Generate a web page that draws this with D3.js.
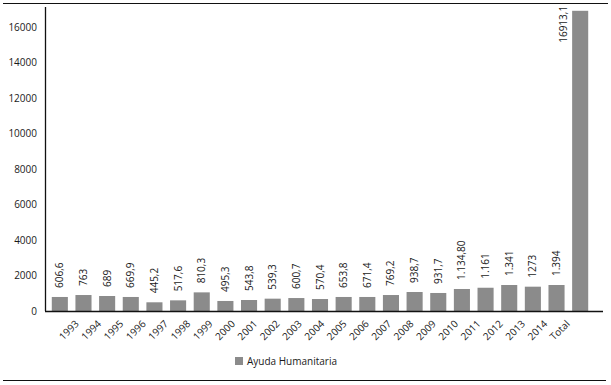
<!DOCTYPE html>
<html>
<head>
<meta charset="utf-8">
<script src="https://cdn.jsdelivr.net/npm/d3@7"></script>
<style>
    body { margin: 0; background: #fff; }
    text { font-family: "Open Sans", sans-serif; fill: #1a1a1a; }
</style>
</head>
<body>
<div id="chart"></div>
<script>

// Categories (years plus the total)
const categories = ["1993","1994","1995","1996","1997","1998","1999","2000","2001","2002","2003",
                    "2004","2005","2006","2007","2008","2009","2010","2011","2012","2013","2014","Total"]

// Bar heights as drawn in the picture
const values = [790,900,845,790,490,600,1050,565,620,695,730,675,790,790,900,1070,1015,1240,1310,1465,1370,1465,16913.1]

// Data labels as printed above each bar
const valueLabels = ["606,6","763","689","669,9","445,2","517,6","810,3","495,3","543,8","539,3","600,7",
                     "570,4","653,8","671,4","769,2","938,7","931,7","1.134,80","1.161","1.341","1273","1.394","16913,1"]

// Y axis ticks
const yTicks = [0,2000,4000,6000,8000,10000,12000,14000,16000]

const seriesName = "Ayuda Humanitaria"

function drawChart(container) {

    // Define chart parameters
    const WIDTH = 611
    const HEIGHT = 385
    const PLOT = {LEFT:45, RIGHT:603, TOP:7, BOTTOM:311}
    const BAR_COLOR = "#8b8b8b"

    let data = categories.map((c, i) => ({cat:c, value:values[i], label:valueLabels[i]}))

    let svg = d3.select(container).append("svg")
        .attr("width", WIDTH)
        .attr("height", HEIGHT)

    // Frame lines top and bottom
    svg.append("line").attr("x1", 3).attr("x2", 608).attr("y1", 3.5).attr("y2", 3.5)
        .attr("stroke", "#111").attr("stroke-width", 1.2)
    svg.append("line").attr("x1", 3).attr("x2", 606).attr("y1", 380.5).attr("y2", 380.5)
        .attr("stroke", "#111").attr("stroke-width", 1.2)

    // Scales
    let xScale = d3.scaleBand()
        .domain(categories)
        .range([48, 592])
        .paddingInner(0.32)
        .paddingOuter(0.16)

    // category labels sit on a slightly tighter spacing than the bars
    let xLabelScale = d3.scalePoint()
        .domain(categories)
        .range([77, 568])

    let yScale = d3.scaleLinear()
        .domain([0, 17000])
        .range([PLOT.BOTTOM, 9.25])

    // Bars
    svg.selectAll("rect.bar")
        .data(data)
        .enter()
        .append("rect")
        .attr("class", "bar")
        .attr("x", d => xScale(d.cat))
        .attr("y", d => yScale(d.value))
        .attr("width", xScale.bandwidth())
        .attr("height", d => yScale(0) - yScale(d.value))
        .style("fill", BAR_COLOR)

    // Value labels, rotated, above each bar (the total one sits beside its bar)
    svg.selectAll("text.value")
        .data(data)
        .enter()
        .append("text")
        .attr("class", "value")
        .attr("transform", d => {
            if (d.cat === "Total") {
                return "translate(" + (xScale(d.cat) - 8.5) + "," + (yScale(d.value) + 32) + ") rotate(-90)"
            }
            return "translate(" + (xScale(d.cat) + xScale.bandwidth() / 2) + "," + (yScale(d.value) - 9) + ") rotate(-90)"
        })
        .attr("dy", "0.35em")
        .attr("text-anchor", "start")
        .style("font-size", "10px")
        .text(d => d.label)

    // Y axis
    let yAxis = svg.append("g")
        .attr("transform", "translate(" + PLOT.LEFT + ",0)")
        .call(d3.axisLeft(yScale).tickValues(yTicks).tickSize(0).tickPadding(8).tickFormat(d3.format("d")))
    yAxis.select(".domain").remove()
    yAxis.selectAll("text").style("font-size", "10px").style("font-family", "'Open Sans', sans-serif").attr("fill", "#1a1a1a")

    svg.append("line")
        .attr("x1", PLOT.LEFT + 0.5).attr("x2", PLOT.LEFT + 0.5)
        .attr("y1", PLOT.TOP).attr("y2", PLOT.BOTTOM)
        .attr("stroke", "#111").attr("stroke-width", 1.3)

    // X axis baseline
    svg.append("line")
        .attr("x1", PLOT.LEFT).attr("x2", PLOT.RIGHT)
        .attr("y1", PLOT.BOTTOM + 0.5).attr("y2", PLOT.BOTTOM + 0.5)
        .attr("stroke", "#111").attr("stroke-width", 1.3)

    // Category labels, rotated 45 degrees
    svg.selectAll("text.cat")
        .data(categories)
        .enter()
        .append("text")
        .attr("class", "cat")
        .attr("transform", d => "translate(" + xLabelScale(d) + ",322) rotate(-45)")
        .attr("text-anchor", "end")
        .attr("dy", "0.35em")
        .style("font-size", "10px")
        .text(d => d)

    // Legend
    let legend = svg.append("g").attr("transform", "translate(235,357)")
    legend.append("rect")
        .attr("width", 8).attr("height", 8)
        .style("fill", BAR_COLOR)
    legend.append("text")
        .attr("x", 12).attr("y", 8)
        .style("font-size", "10px")
        .text(seriesName)
}

drawChart("#chart")
</script>
</body>
</html>
